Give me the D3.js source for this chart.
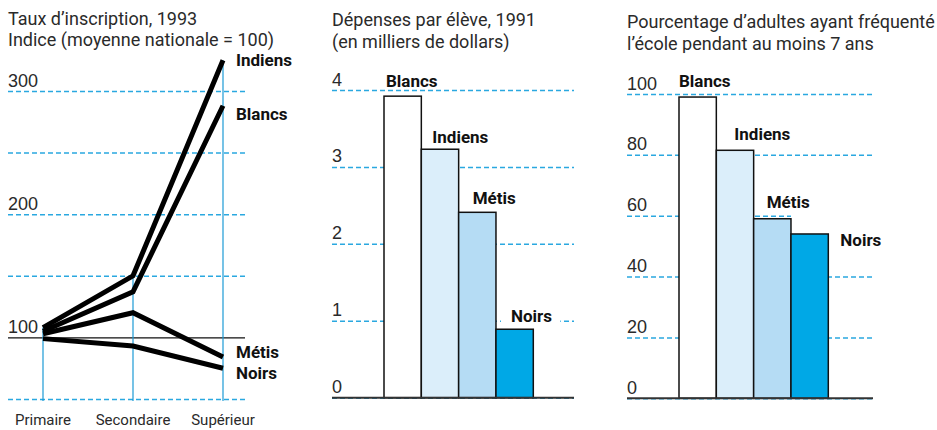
<!DOCTYPE html>
<html>
<head>
<meta charset="utf-8">
<script src="https://d3js.org/d3.v7.min.js"></script>
<style>
  body { margin: 0; background: #fff; }
  svg { display: block; font-family: Roboto, "Open Sans", sans-serif; }
  .title { font-size: 18px; fill: #2a2a2a; font-weight: 400; }
  .tick text { font-size: 18px; fill: #2a2a2a; font-weight: 400; }
  .lab { font-size: 17px; font-weight: 700; fill: #111; }
  .xlab { font-size: 15px; fill: #2a2a2a; font-weight: 400; }
</style>
</head>
<body>
<svg id="chart" width="937" height="430"></svg>
<script>
// left: enrolment index by level
var levels = ["Primaire", "Secondaire", "Supérieur"];
var lineGroups = ["Indiens", "Blancs", "Métis", "Noirs"];
var indiensRate = [108, 150, 325];
var blancsRate = [105, 137, 288];
var metisRate = [103, 120, 84];
var noirsRate = [99, 93, 75];
var rateTicks = [50, 100, 150, 200, 250, 300];
var rateLabels = [100, 200, 300];

// middle + right: bars
var barGroups = ["Blancs", "Indiens", "Métis", "Noirs"];
var spending = [3.92, 3.23, 2.41, 0.89];
var spendingTicks = [0, 1, 2, 3, 4];
var schooling = [99, 81.5, 59, 54];
var schoolingTicks = [0, 20, 40, 60, 80, 100];
var barColors = ["#ffffff", "#dbeefa", "#b5dcf4", "#00a8e6"];

var gridBlue = "#2aa8e0";
var svg = d3.select("#chart");

function titles(g, x, lines, y0, lh) {
  g.selectAll("text.title")
    .data(lines)
    .enter()
    .append("text")
    .attr("class", "title")
    .attr("x", x)
    .attr("y", function (d, i) { return y0 + i * lh; })
    .text(function (d) { return d; });
}

// grid + labels via axisRight, labels moved above the lines
function grid(g, y, x0, x1, ticks, labels, solidAt) {
  var axis = d3.axisRight(y)
    .tickValues(ticks)
    .tickSize(x1 - x0)
    .tickFormat(function (d) { return labels.indexOf(d) >= 0 ? d : ""; });
  var a = g.append("g")
    .attr("transform", "translate(" + x0 + ",0)")
    .call(axis);
  a.select(".domain").remove();
  a.selectAll(".tick line")
    .attr("stroke", function (d) { return d === solidAt ? "#111" : gridBlue; })
    .attr("stroke-width", function (d) { return d === solidAt ? 1.2 : 1.5; })
    .attr("stroke-dasharray", function (d) { return d === solidAt ? null : "5,3"; });
  a.selectAll(".tick text")
    .attr("x", 0)
    .attr("dy", -5)
    .attr("text-anchor", "start")
    .attr("font-family", null)
    .attr("font-size", null);
  return a;
}

// ---------- Left panel: line chart ----------
var left = svg.append("g");
titles(left, 8, ["Taux d’inscription, 1993", "Indice (moyenne nationale = 100)"], 25, 21);

var xL = d3.scalePoint().domain(levels).range([43, 223]);
var yL = d3.scaleLinear().domain([50, 300]).range([399, 91]);

grid(left, yL, 8, 245, rateTicks, rateLabels, 100);

var rates = [indiensRate, blancsRate, metisRate, noirsRate];

// blue vertical guides up to highest value of each level
left.selectAll("line.guide")
  .data(levels)
  .enter()
  .append("line")
  .attr("class", "guide")
  .attr("x1", function (d) { return xL(d); })
  .attr("x2", function (d) { return xL(d); })
  .attr("y1", yL(50) + 2)
  .attr("y2", function (d, i) { return yL(d3.max(rates, function (r) { return r[i]; })); })
  .attr("stroke", "#1c9ad6")
  .attr("stroke-width", 1.2);

var line = d3.line()
  .x(function (d, i) { return xL(levels[i]); })
  .y(function (d) { return yL(d); });

left.selectAll("path.rate")
  .data(rates)
  .enter()
  .append("path")
  .attr("class", "rate")
  .attr("d", line)
  .attr("fill", "none")
  .attr("stroke", "#000")
  .attr("stroke-width", 5)
  .attr("stroke-linejoin", "miter");

var lineLabelDy = [6, 14, 1, 11];
left.selectAll("text.lab")
  .data(lineGroups)
  .enter()
  .append("text")
  .attr("class", "lab")
  .attr("x", xL(levels[2]) + 13)
  .attr("y", function (d, i) { return yL(rates[i][2]) + lineLabelDy[i]; })
  .text(function (d) { return d; });

left.selectAll("text.xlab")
  .data(levels)
  .enter()
  .append("text")
  .attr("class", "xlab")
  .attr("x", function (d) { return xL(d); })
  .attr("y", 425)
  .attr("text-anchor", "middle")
  .text(function (d) { return d; });

// ---------- bar panels ----------
function barPanel(opts) {
  var g = svg.append("g");
  titles(g, opts.x0, opts.title, opts.titleY, 22);

  var x = d3.scaleBand().domain(barGroups).range(opts.barRange).padding(0);
  var y = d3.scaleLinear().domain(opts.domain).range(opts.yRange);

  grid(g, y, opts.x0, opts.x1, opts.ticks, opts.ticks, null);

  var bgLayer = g.append("g");
  var barLayer = g.append("g");
  var textLayer = g.append("g");

  barLayer.selectAll("rect")
    .data(opts.values)
    .enter()
    .append("rect")
    .attr("x", function (d, i) { return x(barGroups[i]); })
    .attr("y", function (d) { return y(d); })
    .attr("width", x.bandwidth())
    .attr("height", function (d) { return y(0) - y(d); })
    .attr("fill", function (d, i) { return barColors[i]; })
    .attr("stroke", "#111")
    .attr("stroke-width", 1.5);

  // baseline
  g.append("line")
    .attr("x1", opts.x0).attr("x2", opts.x1)
    .attr("y1", y(0)).attr("y2", y(0))
    .attr("stroke", "#333")
    .attr("stroke-width", 2);

  var labs = textLayer.selectAll("text")
    .data(barGroups)
    .enter()
    .append("text")
    .attr("class", "lab")
    .attr("x", function (d, i) {
      var o = opts.labelPos[i];
      return o.side ? x(d) + x.bandwidth() + o.dx : x(d) + o.dx;
    })
    .attr("y", function (d, i) { return y(opts.values[i]) + opts.labelPos[i].dy; })
    .text(function (d) { return d; });

  // white boxes under the bars to knock out grid lines behind labels
  labs.each(function (d, i) {
    var b = this.getBBox();
    var base = y(opts.values[i]) + opts.labelPos[i].dy;
    var left = opts.labelPos[i].side ? x(d) : b.x - 10;
    bgLayer.append("rect")
      .attr("x", left)
      .attr("y", base - 34)
      .attr("width", b.x + b.width + 8 - left)
      .attr("height", 35)
      .attr("fill", "#fff");
  });
}

barPanel({
  x0: 332, x1: 574, titleY: 26,
  title: ["Dépenses par élève, 1991", "(en milliers de dollars)"],
  barRange: [384, 533.3],
  domain: [0, 4], yRange: [397.7, 90],
  ticks: spendingTicks,
  values: spending,
  labelPos: [{ dx: 2, dy: -9 }, { dx: 11, dy: -6 }, { dx: 14, dy: -8 }, { dx: 15, dy: -7 }]
});

barPanel({
  x0: 627, x1: 873, titleY: 28,
  title: ["Pourcentage d’adultes ayant fréquenté", "l’école pendant au moins 7 ans"],
  barRange: [679, 828.3],
  domain: [0, 100], yRange: [398.3, 94],
  ticks: schoolingTicks,
  values: schooling,
  labelPos: [{ dx: 0, dy: -10 }, { dx: 18, dy: -10 }, { dx: 13, dy: -11 }, { side: true, dx: 12, dy: 12 }]
});
</script>
</body>
</html>
